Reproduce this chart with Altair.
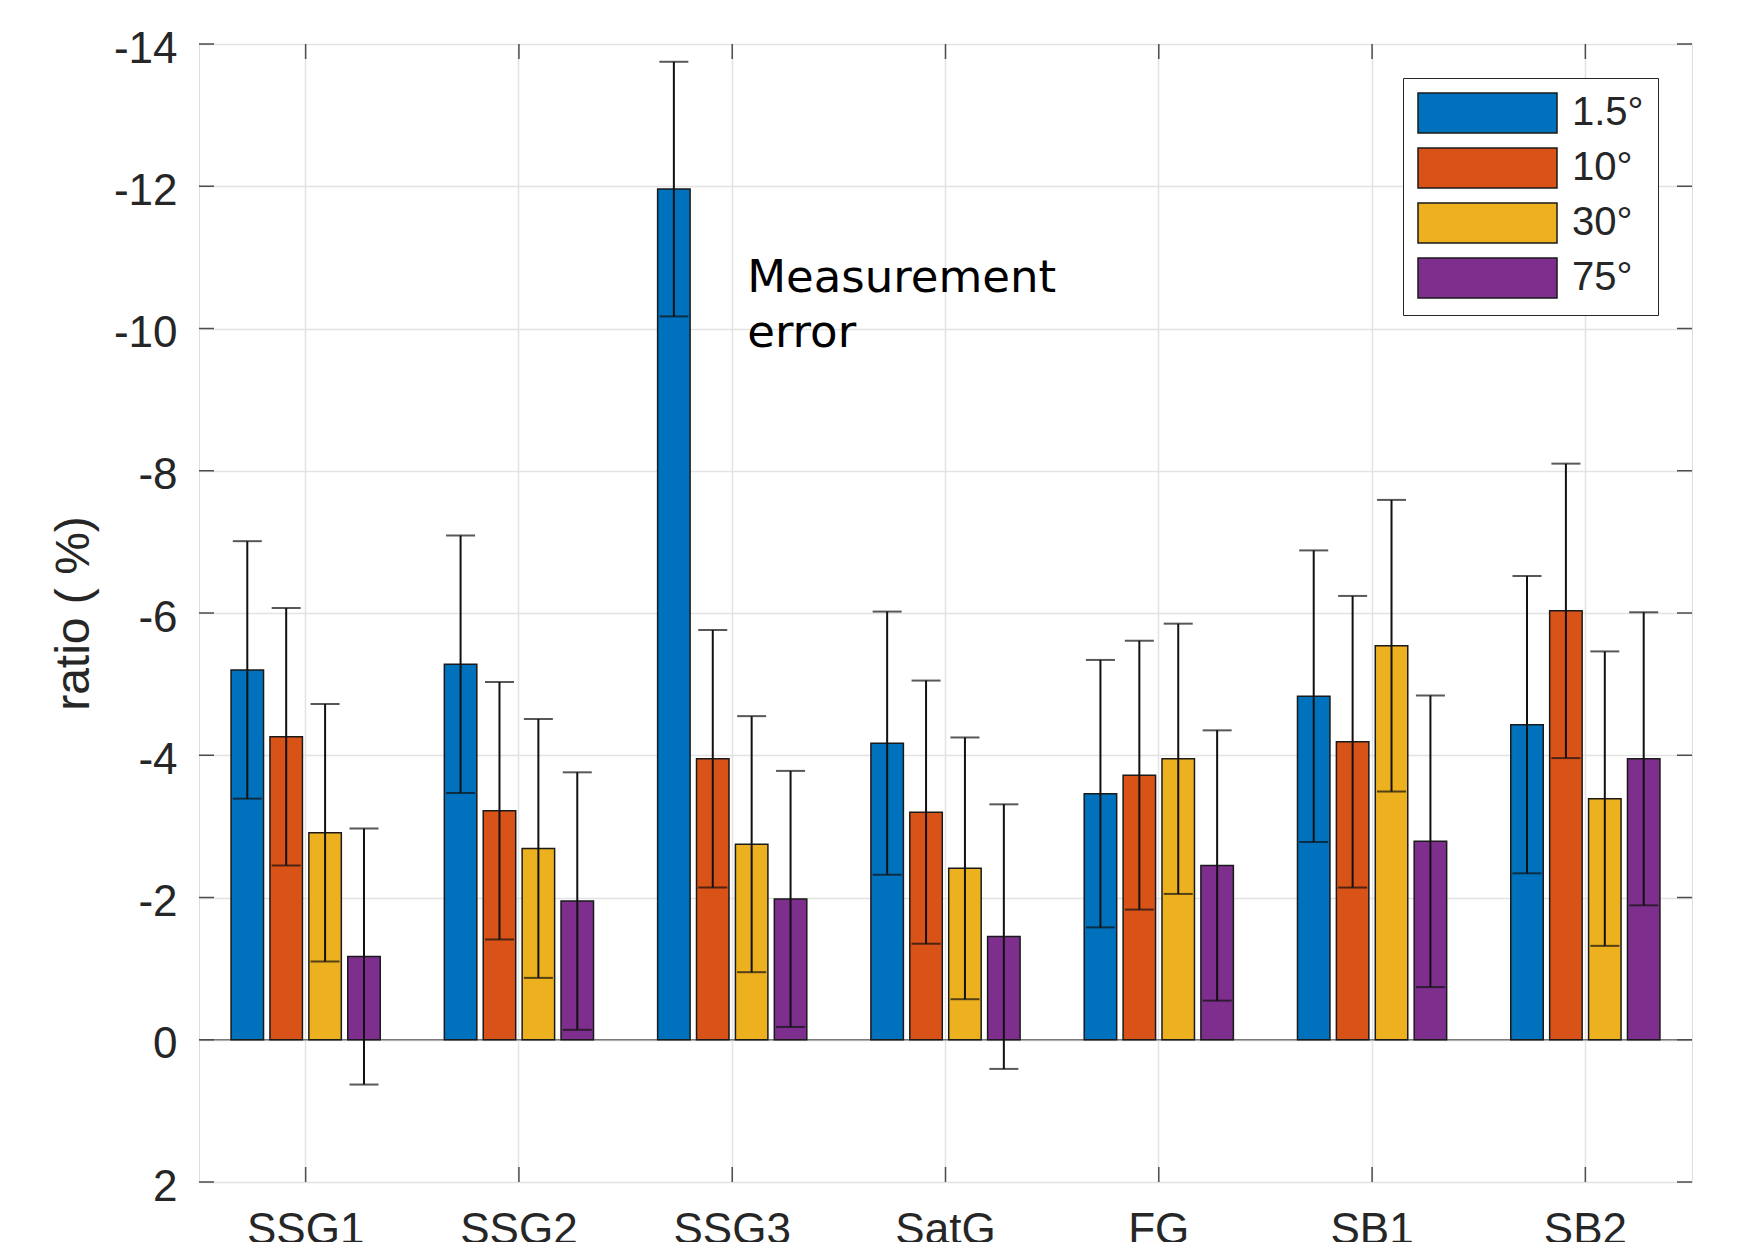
import altair as alt
import pandas as pd

categories = ["SSG1", "SSG2", "SSG3", "SatG", "FG", "SB1", "SB2"]
series = ["1.5°", "10°", "30°", "75°"]
colors = ["#0072BD", "#D95319", "#EDB120", "#7E2F8E"]

v15 = [-5.20, -5.28, -11.96, -4.17, -3.46, -4.83, -4.43]
e15 = [1.81, 1.81, 1.79, 1.85, 1.88, 2.05, 2.09]
v10 = [-4.26, -3.22, -3.95, -3.20, -3.72, -4.19, -6.03]
e10 = [1.81, 1.81, 1.81, 1.85, 1.89, 2.05, 2.07]
v30 = [-2.91, -2.69, -2.75, -2.41, -3.95, -5.54, -3.39]
e30 = [1.81, 1.82, 1.80, 1.84, 1.90, 2.05, 2.07]
v75 = [-1.17, -1.95, -1.98, -1.45, -2.45, -2.79, -3.95]
e75 = [1.80, 1.81, 1.80, 1.86, 1.90, 2.05, 2.06]

y_ticks = [-14, -12, -10, -8, -6, -4, -2, 0, 2]

note_text = ["Measurement", "error"]
note_cat = ["SSG3"]
note_y = [-10.52]

W, H = 1493, 1138

rows = []
for s, vals, errs in zip(series, [v15, v10, v30, v75], [e15, e10, e30, e75]):
    for c, v, e in zip(categories, vals, errs):
        rows.append({"cat": c, "series": s, "value": v, "lo": v - e, "hi": v + e})
df = pd.DataFrame(rows)

FONT = "Liberation Sans"
TXT = "#262626"

x_enc = alt.X("cat:N", sort=categories,
              scale=alt.Scale(domain=categories, paddingInner=0, paddingOuter=0),
              axis=alt.Axis(title=None, labelFont=FONT, labelFontSize=44, labelColor=TXT,
                            labelPadding=26, ticks=False, tickSize=0, domain=False,
                            grid=True, gridColor="#e3e3e3", gridWidth=1.5,
                            bandPosition=0.5, labelAngle=0))
y_scale = alt.Scale(domain=[-14, 2], reverse=True, nice=False, zero=False)
xoff = alt.XOffset("series:N", sort=series,
                   scale=alt.Scale(domain=series, paddingInner=0.165, paddingOuter=0.824))

base = alt.Chart(df)

bars = base.mark_bar(stroke="#1a1a1a", strokeWidth=1.5).encode(
    x=x_enc,
    xOffset=xoff,
    y=alt.Y("value:Q", scale=y_scale,
            axis=alt.Axis(values=y_ticks, title="ratio ( %)", labelFont=FONT, labelFontSize=44,
                          labelColor=TXT, labelPadding=22, labelOffset=5, ticks=False, tickSize=0,
                          domain=False, grid=True, gridColor="#e3e3e3", gridWidth=1.5,
                          labelExpr="'' + datum.value",
                          titleFont=FONT, titleFontSize=48, titleFontWeight="normal",
                          titleColor=TXT, titleAngle=270, titleX=-111, titleY=H / 2,
                          titleAlign="center", titleBaseline="alphabetic")),
    y2=alt.datum(0),
    fill=alt.Fill("series:N", sort=series,
                  scale=alt.Scale(domain=series, range=colors),
                  legend=alt.Legend(title=None, orient="none", legendX=1204, legendY=34,
                                    padding=14, strokeColor="#262626", fillColor="white",
                                    symbolType="M-1,-1L5.95,-1L5.95,1L-1,1Z",
                                    symbolSize=1600, symbolStrokeColor="#1a1a1a",
                                    symbolStrokeWidth=1.5, symbolOpacity=1,
                                    labelFont=FONT, labelFontSize=40, labelColor=TXT,
                                    labelOffset=113, rowPadding=9)),
)

zero_line = alt.Chart(pd.DataFrame({"z": [0]})).mark_rule(color="#7a7a7a", strokeWidth=1.5).encode(
    y=alt.Y("z:Q", scale=y_scale), x=alt.value(0), x2=alt.value(W)
)

err_rule = base.mark_rule(color="#111111", strokeWidth=2).encode(
    x=alt.X("cat:N", sort=categories), xOffset=xoff,
    y=alt.Y("lo:Q", scale=y_scale), y2="hi:Q"
)
cap_lo = base.mark_tick(color="#111111", thickness=2, size=29, orient="horizontal").encode(
    x=alt.X("cat:N", sort=categories), xOffset=xoff, y=alt.Y("lo:Q", scale=y_scale)
)
cap_hi = base.mark_tick(color="#111111", thickness=2, size=29, orient="horizontal").encode(
    x=alt.X("cat:N", sort=categories), xOffset=xoff, y=alt.Y("hi:Q", scale=y_scale)
)

note = alt.Chart(pd.DataFrame({"cat": note_cat, "y": note_y, "t": [note_text]})).mark_text(
    font="DejaVu Sans", fontSize=45, align="left", baseline="alphabetic", dx=15,
    lineHeight=55, color="black"
).encode(x=alt.X("cat:N", sort=categories), y=alt.Y("y:Q", scale=y_scale), text="t")

ydf = pd.DataFrame({"v": y_ticks})
left_ticks = alt.Chart(ydf).mark_rule(color="#4d4d4d", strokeWidth=1.5).encode(
    y=alt.Y("v:Q", scale=y_scale), x=alt.value(0), x2=alt.value(15))
right_ticks = alt.Chart(ydf).mark_rule(color="#4d4d4d", strokeWidth=1.5).encode(
    y=alt.Y("v:Q", scale=y_scale), x=alt.value(W - 15), x2=alt.value(W))
cdf = pd.DataFrame({"cat": categories})
top_ticks = alt.Chart(cdf).mark_rule(color="#4d4d4d", strokeWidth=1.5).encode(
    x=alt.X("cat:N", sort=categories), y=alt.value(0), y2=alt.value(15))
bottom_ticks = alt.Chart(cdf).mark_rule(color="#4d4d4d", strokeWidth=1.5).encode(
    x=alt.X("cat:N", sort=categories), y=alt.value(H - 15), y2=alt.value(H))

chart = alt.layer(
    zero_line, bars, err_rule, cap_lo, cap_hi, note,
    left_ticks, right_ticks, top_ticks, bottom_ticks
).properties(
    width=W, height=H,
    autosize=alt.AutoSizeParams(type="none"),
    padding={"left": 191, "top": 36, "right": 42, "bottom": 60},
).configure_view(
    stroke="#4d4d4d", strokeWidth=1.5
).configure(background="white")

chart.save("out.html", embed_options={"renderer": "svg", "actions": False})
